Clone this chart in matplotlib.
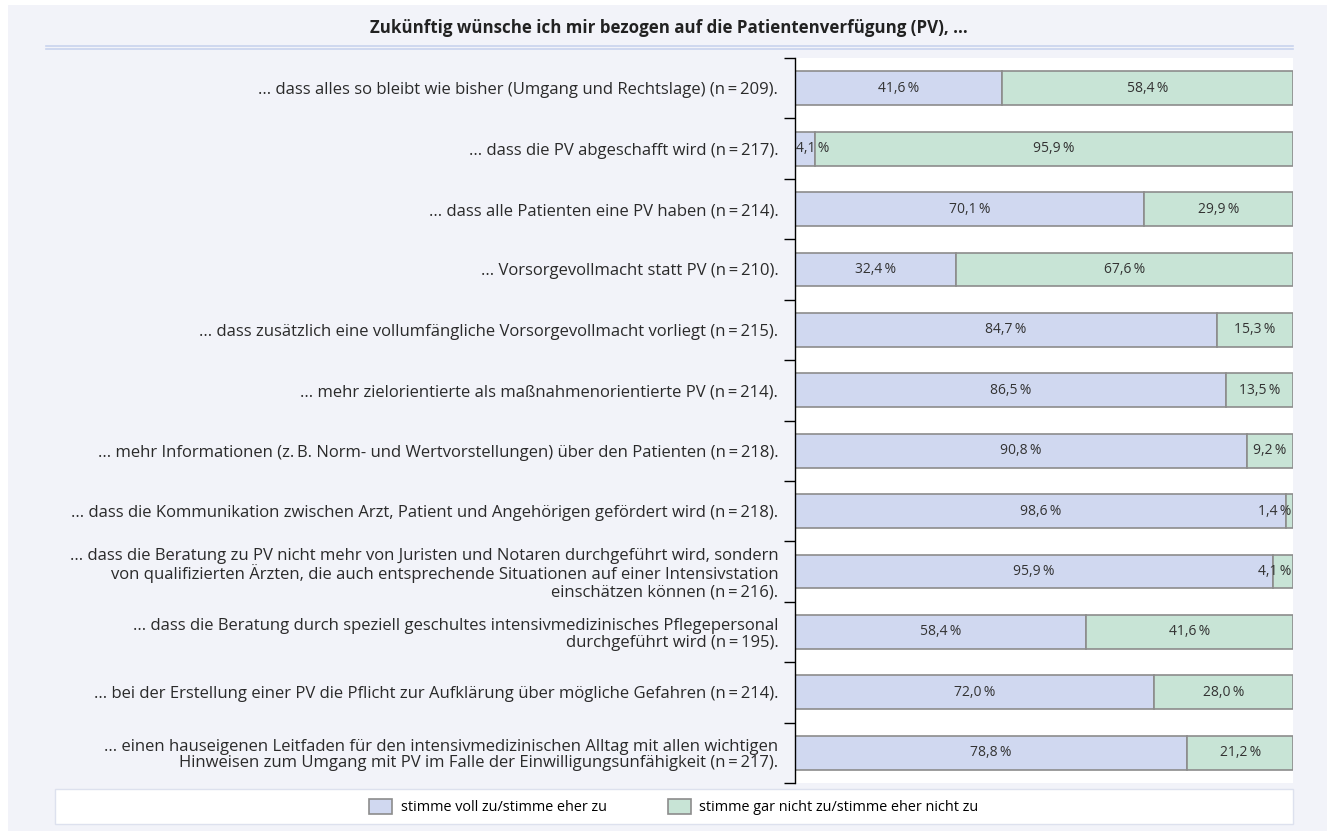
import matplotlib.pyplot as plt
from matplotlib.patches import Rectangle
from matplotlib.lines import Line2D

plt.rcParams['font.family'] = ['Open Sans', 'DejaVu Sans']

# Data
TITLE = "Zukünftig wünsche ich mir bezogen auf die Patientenverfügung (PV), ..."
labels = [
    "... dass alles so bleibt wie bisher (Umgang und Rechtslage) (n\u2009=\u2009209).",
    "... dass die PV abgeschafft wird (n\u2009=\u2009217).",
    "... dass alle Patienten eine PV haben (n\u2009=\u2009214).",
    "... Vorsorgevollmacht statt PV (n\u2009=\u2009210).",
    "... dass zusätzlich eine vollumfängliche Vorsorgevollmacht vorliegt (n\u2009=\u2009215).",
    "... mehr zielorientierte als maßnahmenorientierte PV (n\u2009=\u2009214).",
    "... mehr Informationen (z.\u2009B. Norm- und Wertvorstellungen) über den Patienten (n\u2009=\u2009218).",
    "... dass die Kommunikation zwischen Arzt, Patient und Angehörigen gefördert wird (n\u2009=\u2009218).",
    "... dass die Beratung zu PV nicht mehr von Juristen und Notaren durchgeführt wird, sondern\n"
    "von qualifizierten Ärzten, die auch entsprechende Situationen auf einer Intensivstation\n"
    "einschätzen können (n\u2009=\u2009216).",
    "... dass die Beratung durch speziell geschultes intensivmedizinisches Pflegepersonal\n"
    "durchgeführt wird (n\u2009=\u2009195).",
    "... bei der Erstellung einer PV die Pflicht zur Aufklärung über mögliche Gefahren (n\u2009=\u2009214).",
    "... einen hauseigenen Leitfaden für den intensivmedizinischen Alltag mit allen wichtigen\n"
    "Hinweisen zum Umgang mit PV im Falle der Einwilligungsunfähigkeit (n\u2009=\u2009217).",
]
agree = [41.6, 4.1, 70.1, 32.4, 84.7, 86.5, 90.8, 98.6, 95.9, 58.4, 72.0, 78.8]
disagree = [58.4, 95.9, 29.9, 67.6, 15.3, 13.5, 9.2, 1.4, 4.1, 41.6, 28.0, 21.2]
series_names = ["stimme voll zu/stimme eher zu", "stimme gar nicht zu/stimme eher nicht zu"]

c_agree = "#d0d8f0"
c_disagree = "#c8e4d6"
edge = "#8c8c8c"

W, H = 1327, 831
fig = plt.figure(figsize=(W / 100, H / 100), dpi=100, facecolor="white")

# gray panel background
fig.patches.append(Rectangle((8 / W, 0), 1 - 8 / W, 1 - 5 / H, transform=fig.transFigure,
                             facecolor="#f2f3f9", edgecolor="none", zorder=-10))
# legend box
fig.patches.append(Rectangle((55 / W, 1 - 824 / H), (1293 - 55) / W, 35 / H, transform=fig.transFigure,
                             facecolor="white", edgecolor="#dde1ee", lw=1, zorder=-9))
# double line under title
for yy in (46, 49):
    fig.lines.append(Line2D([46 / W, 1293 / W], [1 - yy / H, 1 - yy / H], transform=fig.transFigure,
                            color="#c9d3ee", lw=1.2, zorder=-9))

fig.text(669 / W, 1 - 28 / H, TITLE, ha="center", va="center", fontsize=12.2, fontweight="bold", color="#222222")

ax = fig.add_axes([795 / W, 1 - 783 / H, (1293 - 795) / W, (783 - 58) / H])
ax.set_facecolor("white")

y = list(range(len(labels)))
ax.barh(y, agree, height=0.56, color=c_agree, edgecolor=edge, linewidth=1.2, label=series_names[0])
ax.barh(y, disagree, left=agree, height=0.56, color=c_disagree, edgecolor=edge, linewidth=1.2,
        label=series_names[1])


def pct(v):
    return f"{v:.1f}".replace(".", ",") + "\u2009%"


for i in y:
    # small segments at the edges: keep label inside the plot area
    if agree[i] < 6:
        ax.text(0.3, i, pct(agree[i]), ha="left", va="center", fontsize=10, color="#333333")
    else:
        ax.text(agree[i] / 2, i, pct(agree[i]), ha="center", va="center", fontsize=10, color="#333333")
    if disagree[i] < 6:
        ax.text(99.7, i, pct(disagree[i]), ha="right", va="center", fontsize=10, color="#333333")
    else:
        ax.text(agree[i] + disagree[i] / 2, i, pct(disagree[i]), ha="center", va="center",
                fontsize=10, color="#333333")

ax.set_xlim(0, 100)
ax.set_ylim(len(labels) - 0.5, -0.5)
ax.set_yticks(y)
ax.set_yticklabels(labels, fontsize=12, color="#2a2a2a", linespacing=1.05)
ax.tick_params(axis="y", which="major", length=0, pad=12)
ax.set_yticks([i - 0.5 for i in range(len(labels) + 1)], minor=True)
ax.tick_params(axis="y", which="minor", length=8, width=1, color="black", direction="out")
ax.set_xticks([])
for s in ("top", "right", "bottom"):
    ax.spines[s].set_visible(False)
ax.spines["left"].set_color("black")
ax.spines["left"].set_linewidth(1)

handles, lbls = ax.get_legend_handles_labels()
fig.legend(handles, lbls, loc="center", bbox_to_anchor=(674 / W, 1 - 807 / H), ncol=2, frameon=False,
           fontsize=10.4, handlelength=1.6, handleheight=1.2, columnspacing=4.2, handletextpad=0.6)

fig.savefig("out.png", dpi=100, facecolor=fig.get_facecolor())
